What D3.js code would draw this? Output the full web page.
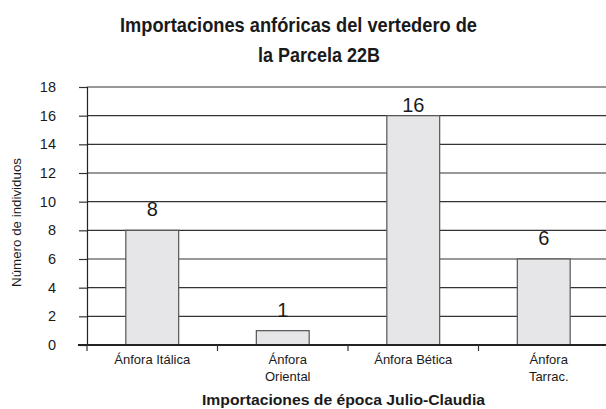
<!DOCTYPE html>
<html><head><meta charset="utf-8">
<script src="https://cdn.jsdelivr.net/npm/d3@7"></script>
<style>body{margin:0;background:#fff}svg{display:block}text{font-family:"Liberation Sans",Arial,sans-serif;fill:#1a1a1a}</style>
</head><body><svg id="c" width="606" height="409"></svg>
<script>
const categories = [["Ánfora Itálica"], ["Ánfora", "Oriental"], ["Ánfora Bética"], ["Ánfora", "Tarrac."]];
const values = [8, 1, 16, 6];
const yTicks = [0, 2, 4, 6, 8, 10, 12, 14, 16, 18];
const titleLines = ["Importaciones anfóricas del vertedero de", "la Parcela 22B"];
const xTitle = "Importaciones de época Julio-Claudia";
const yTitle = "Número de individuos";

const svg = d3.select("#c");
const mLeft = 87, mRight = 609, mTop = 87, mBottom = 345;
const idx = categories.map((d, i) => i);
const x = d3.scaleBand().domain(idx).range([mLeft, mRight]).padding(0);
const y = d3.scaleLinear().domain([0, 18]).range([mBottom, mTop]);
const barW = x.bandwidth() * 0.405;

// gridlines
svg.append("g").selectAll("line").data(yTicks.filter(t => t > 0)).join("line")
  .attr("x1", mLeft).attr("x2", 606).attr("y1", d => y(d)).attr("y2", d => y(d))
  .attr("stroke", "#333").attr("stroke-width", 1.2);

// y axis
const yAxis = svg.append("g").attr("transform", `translate(${mLeft},0)`)
  .call(d3.axisLeft(y).tickValues(yTicks).tickSize(8).tickPadding(23));
yAxis.select(".domain").attr("stroke", "#222").attr("stroke-width", 1.2);
yAxis.selectAll(".tick line").attr("stroke", "#333").attr("stroke-width", 1.2);
yAxis.selectAll(".tick text").attr("font-size", 14.5).attr("font-family", "Liberation Sans, Arial, sans-serif").attr("fill", "#1a1a1a");

// bars
svg.append("g").selectAll("rect").data(values).join("rect")
  .attr("x", (d, i) => x(i) + x.bandwidth() / 2 - barW / 2)
  .attr("y", d => y(d)).attr("width", barW).attr("height", d => y(0) - y(d))
  .attr("fill", "#e6e6e8").attr("stroke", "#555").attr("stroke-width", 1.2);

// value labels
svg.append("g").selectAll("text").data(values).join("text")
  .attr("x", (d, i) => x(i) + x.bandwidth() / 2).attr("y", d => Math.max(y(d) - 14, mTop + 25))
  .attr("text-anchor", "middle").attr("font-size", 20).text(d => d);

// x axis
svg.append("line").attr("x1", mLeft - 9).attr("x2", 606).attr("y1", mBottom).attr("y2", mBottom)
  .attr("stroke", "#222").attr("stroke-width", 2);
svg.append("g").selectAll("line").data(idx).join("line")
  .attr("x1", d => x(d)).attr("x2", d => x(d)).attr("y1", mBottom).attr("y2", mBottom + 6)
  .attr("stroke", "#333").attr("stroke-width", 1.2);

// category labels
const cl = svg.append("g").selectAll("text").data(categories).join("text")
  .attr("text-anchor", "middle").attr("font-size", 13)
  .attr("x", (d, i) => x(i) + x.bandwidth() / 2 + (d.length > 1 ? 5 : 0)).attr("y", 364);
cl.selectAll("tspan").data(d => d).join("tspan")
  .attr("x", function () { return this.parentNode.getAttribute("x"); })
  .attr("dy", (d, i) => i === 0 ? 0 : 17).text(d => d);

// titles
function fitText(sel, w) {
  sel.attr("textLength", w).attr("lengthAdjust", "spacingAndGlyphs");
}
svg.append("text").attr("x", 298.5).attr("y", 32).attr("text-anchor", "middle")
  .attr("font-size", 20).attr("font-weight", "bold").text(titleLines[0]).call(fitText, 357);
svg.append("text").attr("x", 319).attr("y", 62).attr("text-anchor", "middle")
  .attr("font-size", 20).attr("font-weight", "bold").text(titleLines[1]).call(fitText, 122);
svg.append("text").attr("x", 343.5).attr("y", 405).attr("text-anchor", "middle")
  .attr("font-size", 14).attr("font-weight", "bold").text(xTitle).call(fitText, 283);
svg.append("text").attr("transform", "translate(21,222.5) rotate(-90)").attr("text-anchor", "middle")
  .attr("font-size", 12).text(yTitle).call(fitText, 129);
</script></body></html>
